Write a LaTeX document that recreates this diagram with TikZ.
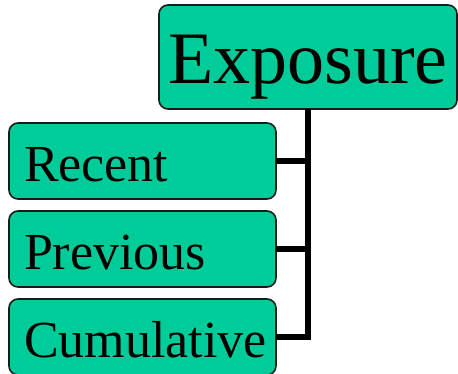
\documentclass[tikz,border=0pt]{standalone}
\usepackage{fontspec}
\setmainfont{Liberation Serif}
\definecolor{boxgreen}{HTML}{00CC99}
\definecolor{boxedge}{HTML}{1A1A1A}
\begin{document}
\begin{tikzpicture}[x=1pt,y=1pt,
  box/.style={draw=boxedge, line width=1.6pt, fill=boxgreen, rounded corners=9pt,
    inner sep=0pt, outer sep=0pt},
  headbox/.style={box, minimum width=298pt, minimum height=104pt,
    font=\fontsize{74}{80}\selectfont, text height=54pt, text depth=0pt},
  itembox/.style={box, minimum width=267pt, minimum height=76pt,
    font=\fontsize{52}{56}\selectfont, text height=40pt, text depth=0pt,
    inner xsep=15pt, text width=237pt, align=left},
  conn/.style={line width=5.5pt, draw=black}]
\useasboundingbox (0,0) rectangle (458,373);
\clip (0,0) rectangle (458,373);

% head node and its three items
\node[headbox] (exp) at (308,316) {Exposure};
\node[itembox] (rec) at (142.5,212) {Recent};
\node[itembox] (prev) at (142.5,124) {Previous};
\node[itembox] (cum) at (142.5,36) {Cumulative};

% bracket connectors
\draw[conn] (exp.south) |- (cum.east);
\draw[conn] (exp.south) |- (prev.east);
\draw[conn] (exp.south) |- (rec.east);
\end{tikzpicture}
\end{document}
